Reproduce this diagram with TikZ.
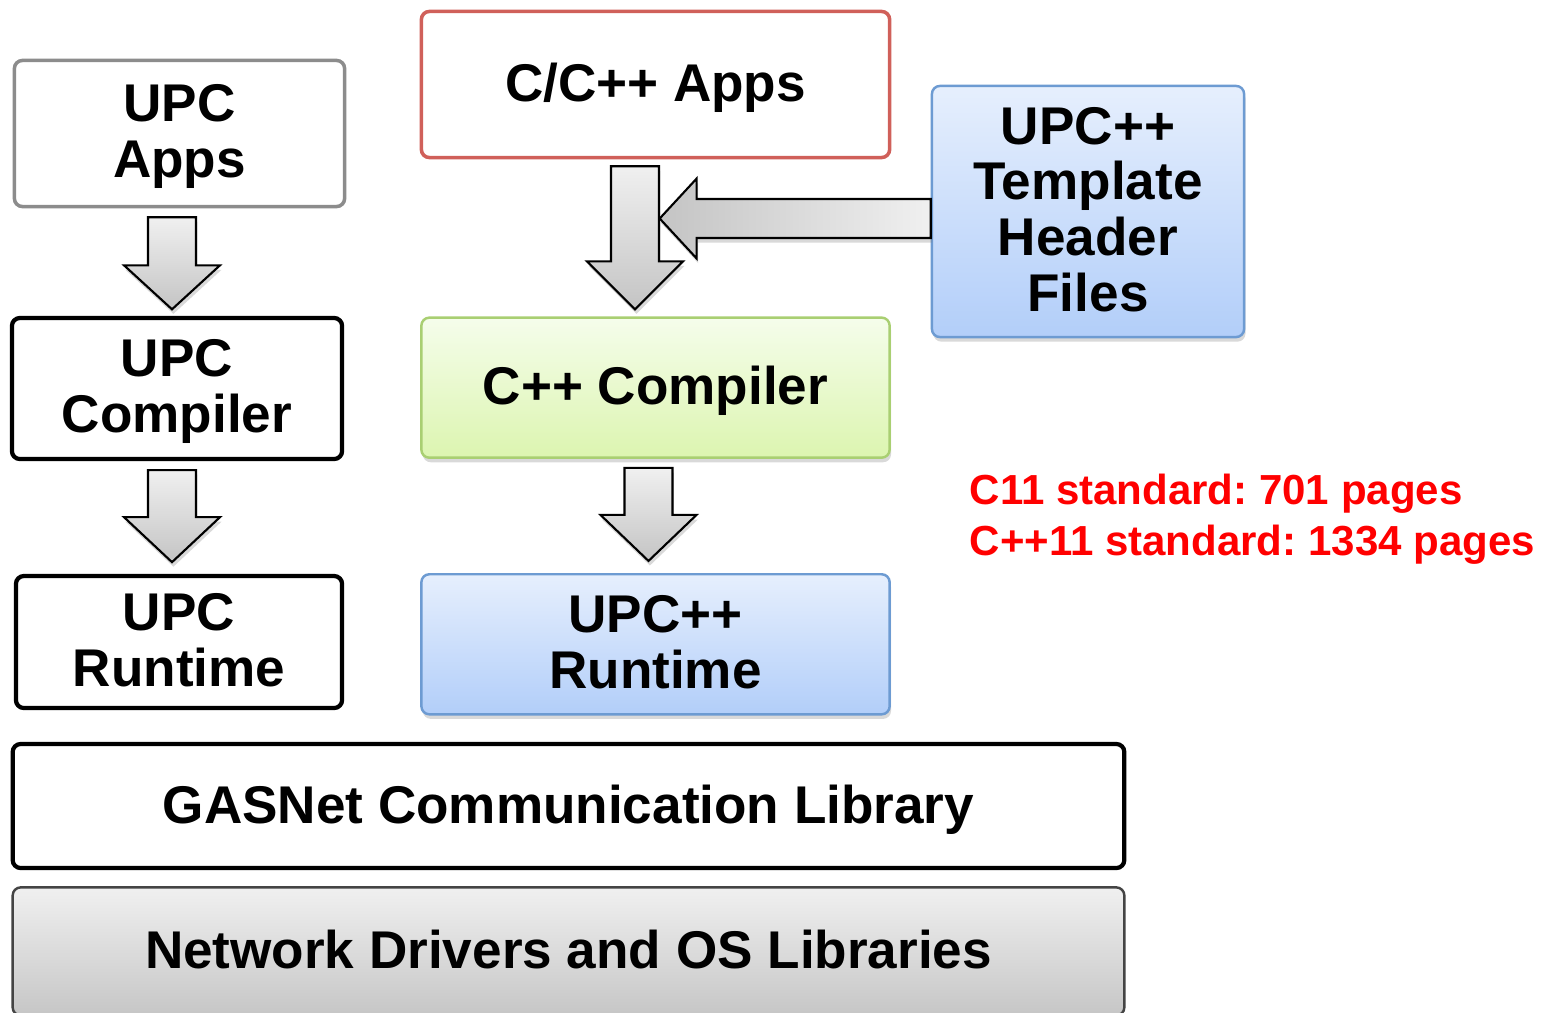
\documentclass[tikz,border=0pt]{standalone}
\usepackage{fontspec}
\setmainfont{Liberation Sans}
\frenchspacing
\usepackage{tikz}
\usetikzlibrary{positioning, calc, shadows}
\definecolor{boxgray}{HTML}{8C8C8C}
\definecolor{appsred}{HTML}{D0605A}
\definecolor{rtblue}{HTML}{6D9BD2}
\definecolor{bluetop}{HTML}{E6EFFD}
\definecolor{bluebot}{HTML}{B2CEF9}
\definecolor{compgreen}{HTML}{A9CF72}
\definecolor{greentop}{HTML}{F5FDEB}
\definecolor{greenbot}{HTML}{DCF5B0}
\definecolor{netdark}{HTML}{444444}
\definecolor{nettop}{HTML}{F0F0F0}
\definecolor{netbot}{HTML}{C6C6C6}
\definecolor{arrowlight}{HTML}{F0F0F0}
\definecolor{arrowdark}{HTML}{C4C4C4}
\definecolor{pagered}{HTML}{FF0000}

\begin{document}
\begin{tikzpicture}[
    x=0.01cm, y=-0.01cm,
    layer/.style={rectangle, rounded corners=0.08cm, draw, line width=1.2pt, align=center, inner sep=0pt,
        font=\bfseries\fontsize{15.1}{15.9}\selectfont, text depth=1.2pt},
    plainbox/.style={layer, fill=white},
    graybox/.style={layer, fill=white, draw=boxgray, line width=1pt},
    redbox/.style={layer, fill=white, draw=appsred, line width=1pt},
    softshadow/.style={drop shadow={shadow xshift=0.4pt, shadow yshift=-1.3pt, opacity=0.3}},
    bluebox/.style={layer, draw=rtblue, line width=0.7pt, top color=bluetop, bottom color=bluebot, softshadow},
    greenbox/.style={layer, draw=compgreen, line width=0.7pt, top color=greentop, bottom color=greenbot, softshadow},
    netbox/.style={layer, draw=netdark, line width=0.7pt, top color=nettop, bottom color=netbot},
    blockfill/.style={draw=black, line width=0.6pt, softshadow},
    pics/downblock/.style 2 args={code={
        \path[blockfill, top color=arrowlight, bottom color=arrowdark]
            (-24,0) -- (24,0) -- (24,#2) -- (48,#2) -- (0,#1) -- (-48,#2) -- (-24,#2) -- cycle;
    }},
    pics/leftblock/.style={code={
        \path[blockfill, left color=arrowdark, right color=arrowlight]
            (0,-19.5) -- (-234,-19.5) -- (-234,-40) -- (-271,0) -- (-234,40) -- (-234,19.5) -- (0,19.5) -- cycle;
    }},
]
    \clip (0,0) rectangle (1558,1012);

    % left column: UPC
    \node[graybox, minimum width=3.30cm, minimum height=1.46cm] (upcapps) at (179.5,133.5) {UPC\\Apps};
    \node[plainbox, minimum width=3.30cm, minimum height=1.41cm] (upccomp) at (177,388.5) {UPC\\Compiler};
    \node[plainbox, minimum width=3.26cm, minimum height=1.32cm] (upcrt) at (179,642) {UPC\\Runtime};

    % middle column: UPC++
    \node[redbox, minimum width=4.68cm, minimum height=1.46cm] (capps) at (655.5,84.5) {C/C++ Apps};
    \node[greenbox, minimum width=4.68cm, minimum height=1.40cm, below=1.57cm of capps] (cppcomp) {C++ Compiler};
    \node[bluebox, minimum width=4.68cm, minimum height=1.40cm, below=1.14cm of cppcomp] (upcpprt) {UPC++\\Runtime};
    \node[bluebox, minimum width=3.12cm, minimum height=2.51cm] (tmpl) at (1088,211.5) {UPC++\\Template\\Header\\Files};

    % shared layers
    \node[plainbox, minimum width=11.11cm, minimum height=1.24cm] (gasnet) at (568.5,806) {GASNet Communication Library};
    \node[netbox, minimum width=11.11cm, minimum height=1.28cm, below=0.16cm of gasnet] (netdrv) {Network Drivers and OS Libraries};

    \node[anchor=west, align=left, inner sep=0pt, text=pagered,
        font=\bfseries\fontsize{11.95}{14.5}\selectfont] (pages) at (969,519.5)
        {C11 standard: 701 pages\\C++11 standard: 1334 pages};

    % block arrows
    \pic at ($(upcapps.south)+(-7.5,9)$) {downblock={92}{48}};
    \pic at ($(upccomp.south)+(-5,9)$) {downblock={92}{47}};
    \pic at ($(capps.south)+(-20.5,7)$) {downblock={143}{95}};
    \pic at ($(cppcomp.south)+(-7,9)$) {downblock={93}{47}};
    \pic at ($(tmpl.west)+(0,7)$) {leftblock};
\end{tikzpicture}
\end{document}
